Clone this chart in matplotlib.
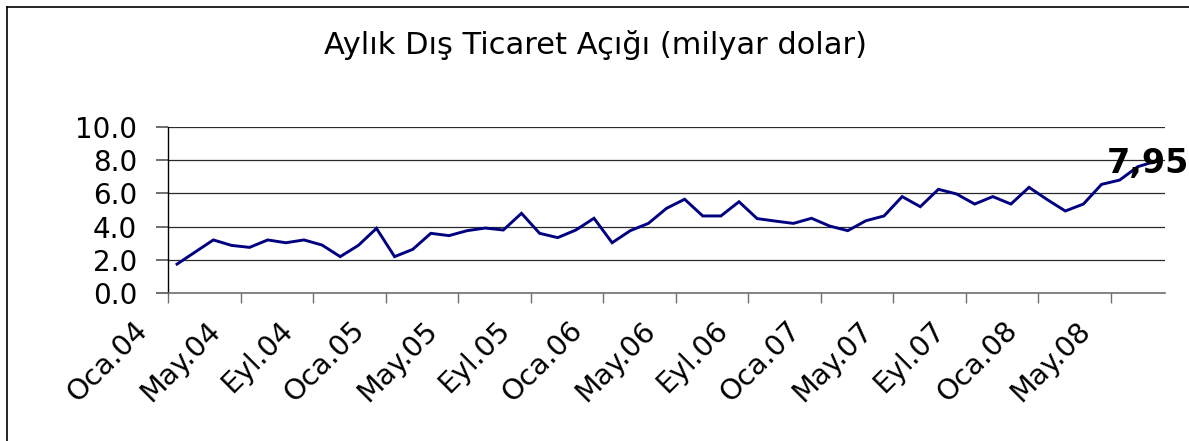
import numpy as np
import matplotlib
matplotlib.use("Agg")
import matplotlib.pyplot as plt
from matplotlib.lines import Line2D
from matplotlib.transforms import ScaledTranslation

# monthly foreign trade deficit, Oca.04 .. Tem.08 (billion $)
deficit = [1.73, 2.46, 3.19, 2.86, 2.74, 3.19, 3.02, 3.19, 2.88, 2.18, 2.86, 3.89,
           2.18, 2.62, 3.59, 3.45, 3.75, 3.91, 3.79, 4.80, 3.59, 3.33, 3.79, 4.50,
           3.02, 3.75, 4.19, 5.10, 5.65, 4.64, 4.64, 5.50, 4.48, 4.33, 4.19, 4.50,
           4.03, 3.75, 4.35, 4.64, 5.81, 5.20, 6.25, 5.97, 5.36, 5.81, 5.36, 6.37,
           5.63, 4.94, 5.36, 6.55, 6.81, 7.62, 7.95]
tick_labels = ["Oca.04", "May.04", "Eyl.04", "Oca.05", "May.05", "Eyl.05", "Oca.06",
               "May.06", "Eyl.06", "Oca.07", "May.07", "Eyl.07", "Oca.08", "May.08"]
last_label = "7,95"
title = "Aylık Dış Ticaret Açığı (milyar dolar)"

plt.rcParams['font.family'] = ['DejaVu Sans']

fig = plt.figure(figsize=(11.89, 4.41), dpi=100)
ax = fig.add_axes([168 / 1189, 148.3 / 441, 997 / 1189, 165.4 / 441])

x = np.arange(len(deficit))
ax.plot(x, deficit, color='#000080', lw=2.1, solid_joinstyle='miter')

ax.set_xlim(-0.5, len(deficit) - 0.5)
ax.set_ylim(0, 10)

# labels every 4 months, tick marks at category boundaries
ax.set_xticks(x[::4])
ax.set_xticklabels(tick_labels, rotation=45, ha='right', va='top', fontsize=20.5)
ax.set_xticks(x[::4] - 0.5, minor=True)
ax.tick_params(axis='x', which='major', length=0, pad=17)
ax.tick_params(axis='x', which='minor', length=7.5, width=1, color='#707070', direction='out')
shift = ScaledTranslation(-24 / 100, 0, fig.dpi_scale_trans)
for lab in ax.get_xticklabels():
    lab.set_transform(lab.get_transform() + shift)

ax.set_yticks(np.arange(0, 11, 2))
ax.set_yticklabels(["%.1f" % v for v in np.arange(0, 11, 2)], fontsize=20)
ax.tick_params(axis='y', length=8.6, width=1.2, color='#555555', pad=13.5)

ax.grid(axis='y', color='#2a2a2a', lw=0.9)
ax.set_axisbelow(True)
for s in ['top', 'right']:
    ax.spines[s].set_visible(False)
ax.spines['left'].set_color('black')
ax.spines['left'].set_linewidth(1.0)
ax.spines['bottom'].set_color('#707070')
ax.spines['bottom'].set_linewidth(1.2)

ax.annotate(last_label, (x[-1], deficit[-1]), xytext=(-6, -8.6), textcoords='offset points',
            ha='center', va='baseline', fontsize=24, fontweight='bold', color='black',
            annotation_clip=False)

fig.text(596 / 1189, 1 - 45 / 441, title, ha='center', va='center', fontsize=22)

# outer frame (left and top edges visible)
fig.add_artist(Line2D([6.5 / 1189, 6.5 / 1189], [0, 1 - 6.5 / 441], color='black', lw=1.2))
fig.add_artist(Line2D([6.5 / 1189, 1], [1 - 6.5 / 441, 1 - 6.5 / 441], color='black', lw=1.2))

fig.savefig("out.png", dpi=100)
